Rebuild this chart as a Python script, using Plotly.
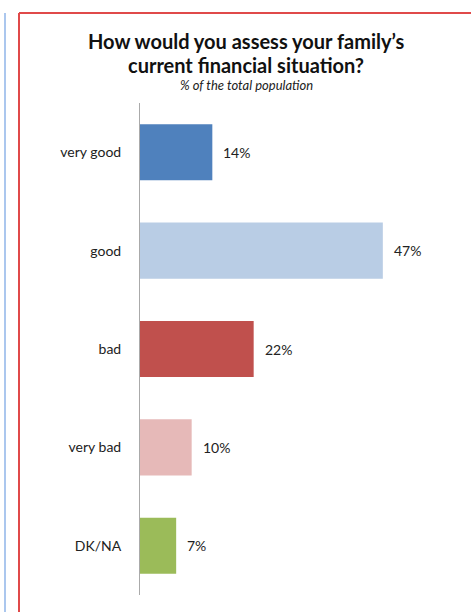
import plotly.graph_objects as go

# Survey answers and shares (% of the total population)
categories = ["very good", "good", "bad", "very bad", "DK/NA"]
shares = [14, 47, 22, 10, 7]
bar_colors = ["#4F81BD", "#B9CDE5", "#C0504D", "#E6B9B8", "#9BBB59"]
value_labels = [f"{v}%" for v in shares]

title_line1 = "How would you assess your family’s"
title_line2 = "current financial situation?"
subtitle = "% of the total population"

W, H = 471, 612
L, R, T, B = 140, 21, 103, 17
plot_w = W - L - R
plot_h = H - T - B


def px_x(x):
    return (x - L) / plot_w


def px_y(y):
    return (H - B - y) / plot_h


FONT = "Lato, 'Open Sans', sans-serif"

fig = go.Figure(
    go.Bar(
        x=shares,
        y=categories,
        orientation="h",
        marker=dict(color=bar_colors, line=dict(width=0)),
        hoverinfo="skip",
    )
)

# value labels to the right of each bar
value_annotations = [
    dict(text=lab, x=v, y=cat, xref="x", yref="y", showarrow=False,
         xanchor="left", yanchor="middle", xshift=9,
         font=dict(size=14, color="#222222", family=FONT))
    for cat, v, lab in zip(categories, shares, value_labels)
]

fig.update_layout(
    width=W,
    height=H,
    margin=dict(l=L, r=R, t=T, b=B, pad=0),
    paper_bgcolor="white",
    plot_bgcolor="white",
    showlegend=False,
    bargap=0.43,
    font=dict(family=FONT, color="#222222"),
    xaxis=dict(
        range=[0, 60],
        showgrid=False,
        zeroline=False,
        showticklabels=False,
        showline=False,
        ticks="",
    ),
    yaxis=dict(
        autorange=False,
        range=[4.5, -0.5],
        showgrid=False,
        zeroline=False,
        showline=True,
        linecolor="#AAAAAA",
        linewidth=1,
        ticks="",
        ticklabelstandoff=15,
        tickfont=dict(size=14, color="#222222", family=FONT),
    ),
    annotations=value_annotations + [
        dict(text=f"<b>{title_line1}</b>", x=px_x(246), y=px_y(41), xref="paper", yref="paper",
             showarrow=False, xanchor="center", yanchor="middle",
             font=dict(size=20, color="#111111", family=FONT)),
        dict(text=f"<b>{title_line2}</b>", x=px_x(246), y=px_y(65), xref="paper", yref="paper",
             showarrow=False, xanchor="center", yanchor="middle",
             font=dict(size=20, color="#111111", family=FONT)),
        dict(text=f"<i>{subtitle}</i>", x=px_x(246), y=px_y(85), xref="paper", yref="paper",
             showarrow=False, xanchor="center", yanchor="middle",
             font=dict(size=13, color="#222222", family=FONT)),
    ],
    shapes=[
        # red frame around the chart
        dict(type="line", xref="paper", yref="paper",
             x0=px_x(19), x1=px_x(471), y0=px_y(13), y1=px_y(13),
             line=dict(color="#E04A4A", width=2)),
        dict(type="line", xref="paper", yref="paper",
             x0=px_x(19), x1=px_x(19), y0=px_y(13), y1=px_y(612),
             line=dict(color="#E04A4A", width=2)),
        # thin blue guide on the far left
        dict(type="line", xref="paper", yref="paper",
             x0=px_x(5), x1=px_x(5), y0=px_y(13), y1=px_y(612),
             line=dict(color="#8FB4E8", width=1.5)),
    ],
)

fig.write_html("out.html")
